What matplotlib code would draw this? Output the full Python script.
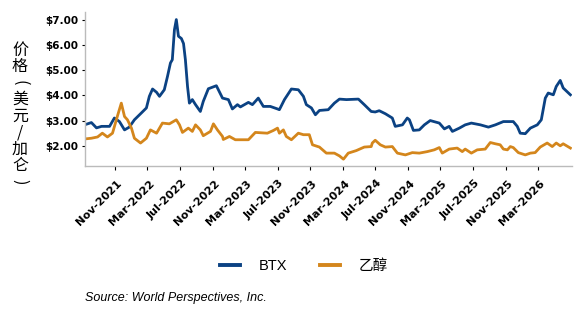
import pandas as pd
import matplotlib
matplotlib.use("Agg")
import matplotlib.pyplot as plt
import matplotlib.dates as mdates
import matplotlib.transforms as mtransforms
from matplotlib.ticker import FuncFormatter, FixedLocator

# BTX price, USD/gal
btx_dates = [
    "2021-07-08", "2021-08-03", "2021-08-22", "2021-09-10", "2021-10-10", "2021-10-28",
    "2021-11-16", "2021-12-05", "2021-12-23", "2022-01-11", "2022-02-06", "2022-02-25",
    "2022-03-08", "2022-03-20", "2022-04-04", "2022-04-15", "2022-05-03", "2022-05-15",
    "2022-05-26", "2022-06-02", "2022-06-10", "2022-06-17", "2022-06-25", "2022-07-06",
    "2022-07-14", "2022-07-21", "2022-07-29", "2022-08-05", "2022-08-16", "2022-08-28",
    "2022-09-15", "2022-09-26", "2022-10-15", "2022-11-14", "2022-12-07", "2022-12-29",
    "2023-01-13", "2023-02-01", "2023-02-12", "2023-03-14", "2023-03-29", "2023-04-20",
    "2023-05-09", "2023-06-04", "2023-07-01", "2023-07-08", "2023-07-27", "2023-08-22",
    "2023-09-17", "2023-10-06", "2023-10-17", "2023-11-05", "2023-11-20", "2023-12-05",
    "2024-01-07", "2024-01-30", "2024-02-18", "2024-03-15", "2024-04-29", "2024-05-21",
    "2024-06-16", "2024-07-01", "2024-07-16", "2024-08-08", "2024-09-03", "2024-09-14",
    "2024-10-11", "2024-10-29", "2024-11-06", "2024-11-21", "2024-12-13", "2025-01-01",
    "2025-01-23", "2025-02-26", "2025-03-17", "2025-04-04", "2025-04-16", "2025-05-12",
    "2025-06-03", "2025-06-26", "2025-07-30", "2025-08-29", "2025-09-24", "2025-10-24",
    "2025-11-30", "2025-12-15", "2025-12-26", "2026-01-14", "2026-02-02", "2026-02-28",
    "2026-03-15", "2026-03-22", "2026-03-30", "2026-04-10", "2026-04-29", "2026-05-10",
    "2026-05-25", "2026-06-05", "2026-07-02",
]
btx_values = [
    2.83, 2.92, 2.71, 2.77, 2.77, 3.10,
    2.96, 2.63, 2.74, 3.03, 3.30, 3.50,
    3.96, 4.25, 4.12, 3.96, 4.22, 4.75,
    5.28, 5.41, 6.60, 7.00, 6.34, 6.25,
    6.05, 5.41, 4.35, 3.69, 3.83, 3.63,
    3.36, 3.76, 4.26, 4.38, 3.89, 3.83,
    3.46, 3.63, 3.54, 3.72, 3.63, 3.89,
    3.56, 3.56, 3.46, 3.43, 3.83, 4.25,
    4.22, 3.96, 3.63, 3.50, 3.23, 3.40,
    3.43, 3.69, 3.85, 3.83, 3.85, 3.63,
    3.36, 3.34, 3.39, 3.27, 3.10, 2.77,
    2.83, 3.10, 3.03, 2.61, 2.63, 2.83,
    3.00, 2.90, 2.67, 2.77, 2.57, 2.70,
    2.83, 2.90, 2.83, 2.74, 2.83, 2.96,
    2.96, 2.77, 2.50, 2.48, 2.70, 2.83,
    3.03, 3.43, 3.89, 4.09, 4.02, 4.35,
    4.59, 4.29, 4.02,
]

# ethanol price, USD/gal
eth_dates = [
    "2021-07-08", "2021-08-03", "2021-08-26", "2021-09-13", "2021-10-02", "2021-10-21",
    "2021-11-08", "2021-11-23", "2021-12-05", "2021-12-16", "2021-12-31", "2022-01-11",
    "2022-02-03", "2022-02-25", "2022-03-12", "2022-04-04", "2022-04-26", "2022-05-22",
    "2022-06-17", "2022-06-29", "2022-07-10", "2022-08-01", "2022-08-16", "2022-08-28",
    "2022-09-15", "2022-09-26", "2022-10-23", "2022-11-03", "2022-11-18", "2022-12-07",
    "2022-12-10", "2023-01-02", "2023-01-24", "2023-02-23", "2023-03-14", "2023-04-09",
    "2023-05-24", "2023-06-16", "2023-07-01", "2023-07-08", "2023-07-23", "2023-08-03",
    "2023-08-22", "2023-09-17", "2023-10-06", "2023-10-28", "2023-11-09", "2023-12-05",
    "2023-12-31", "2024-01-30", "2024-02-18", "2024-03-04", "2024-03-22", "2024-04-21",
    "2024-05-21", "2024-06-16", "2024-06-20", "2024-07-01", "2024-07-20", "2024-08-08",
    "2024-09-03", "2024-09-22", "2024-10-22", "2024-11-17", "2024-12-13", "2025-01-12",
    "2025-02-07", "2025-02-26", "2025-03-09", "2025-04-04", "2025-05-04", "2025-05-23",
    "2025-06-03", "2025-06-26", "2025-07-18", "2025-08-17", "2025-09-05", "2025-09-24",
    "2025-10-12", "2025-10-24", "2025-11-08", "2025-11-19", "2025-11-30", "2025-12-19",
    "2026-01-14", "2026-02-02", "2026-02-20", "2026-03-11", "2026-04-06", "2026-04-25",
    "2026-05-10", "2026-05-25", "2026-06-05", "2026-07-02",
]
eth_values = [
    2.27, 2.30, 2.35, 2.50, 2.35, 2.50,
    3.16, 3.69, 3.16, 3.03, 2.70, 2.30,
    2.11, 2.30, 2.63, 2.50, 2.90, 2.87,
    3.03, 2.83, 2.53, 2.70, 2.57, 2.83,
    2.63, 2.40, 2.57, 2.87, 2.63, 2.37,
    2.25, 2.37, 2.24, 2.24, 2.24, 2.53,
    2.50, 2.61, 2.70, 2.50, 2.63, 2.37,
    2.24, 2.50, 2.44, 2.44, 2.04, 1.95,
    1.71, 1.71, 1.60, 1.47, 1.71, 1.81,
    1.95, 1.97, 2.11, 2.22, 2.04, 1.95,
    1.97, 1.71, 1.64, 1.73, 1.71, 1.77,
    1.84, 1.93, 1.71, 1.87, 1.91, 1.77,
    1.87, 1.71, 1.84, 1.87, 2.13, 2.08,
    2.04, 1.87, 1.84, 1.97, 1.93, 1.73,
    1.64, 1.71, 1.73, 1.95, 2.11, 1.97,
    2.11, 2.00, 2.08, 1.91,
]

series_labels = ["BTX", "乙醇"]
x_ticks = ["2021-11-01", "2022-03-01", "2022-07-01", "2022-11-01", "2023-03-01",
           "2023-07-01", "2023-11-01", "2024-03-01", "2024-07-01", "2024-11-01",
           "2025-03-01", "2025-07-01", "2025-11-01", "2026-03-01"]
y_ticks = [2, 3, 4, 5, 6, 7]
ylabel_chars = ["价", "格", "(", "美", "元", "/", "加", "仑", ")"]
source_text = "Source: World Perspectives, Inc."

BLUE = "#0B4283"
ORANGE = "#D4861C"

fig = plt.figure(figsize=(5.78, 3.17), dpi=100)
ax = fig.add_axes([85 / 578, 1 - 166 / 317, (572 - 85) / 578, (166 - 12) / 317])

ax.plot(pd.to_datetime(btx_dates), btx_values, color=BLUE, lw=2.0, label=series_labels[0])
ax.plot(pd.to_datetime(eth_dates), eth_values, color=ORANGE, lw=2.0, label=series_labels[1])

ax.set_xlim(pd.Timestamp("2021-07-10"), pd.Timestamp("2026-07-08"))
ax.set_ylim(1.2, 7.3)
ax.set_yticks(y_ticks)
ax.yaxis.set_major_formatter(FuncFormatter(lambda v, p: f"${v:.2f}"))

ax.xaxis.set_major_locator(FixedLocator(mdates.date2num(pd.to_datetime(x_ticks))))
ax.xaxis.set_major_formatter(mdates.DateFormatter("%b-%Y"))

for s in ["top", "right"]:
    ax.spines[s].set_visible(False)
for s in ["left", "bottom"]:
    ax.spines[s].set_color("#BBBBBB")
    ax.spines[s].set_linewidth(1.0)

ax.tick_params(axis="y", length=2.5, width=0.8, color="black", pad=2)
ax.tick_params(axis="x", length=3, width=0.8, color="black", pad=6)
for lab in ax.get_yticklabels():
    lab.set_fontweight("bold")
    lab.set_fontsize(7.5)
    lab.set_family("DejaVu Sans")
shift = mtransforms.ScaledTranslation(5 / 100, -3 / 100, fig.dpi_scale_trans)
for lab in ax.get_xticklabels():
    lab.set_fontweight("bold")
    lab.set_fontsize(8)
    lab.set_family("DejaVu Sans")
    lab.set_rotation(45)
    lab.set_rotation_mode("anchor")
    lab.set_ha("right")
    lab.set_va("center")
    lab.set_transform(lab.get_transform() + shift)

# vertical Chinese y label, one character per line; brackets turned like vertical forms
for i, ch in enumerate(ylabel_chars):
    rot = -90 if ch in "()" else 0
    fig.text(20 / 578, 1 - (50 + i * 16.5) / 317, ch, ha="center", va="center",
             rotation=rot, fontsize=11.5, family=["Noto Sans CJK SC", "DejaVu Sans"])

fig.legend(loc="center", bbox_to_anchor=(304 / 578, 1 - 266 / 317), ncol=2, frameon=False,
           handlelength=1.4, handletextpad=1.3, columnspacing=2.2,
           prop={"family": ["Liberation Sans", "Noto Sans CJK SC"], "size": 10.5})
for line in fig.legends[0].get_lines():
    line.set_linewidth(2.8)

fig.text(85 / 578, 1 - 298 / 317, source_text, ha="left", va="center",
         fontsize=9, style="italic", family="Liberation Sans")

fig.savefig("out.png", dpi=100)
